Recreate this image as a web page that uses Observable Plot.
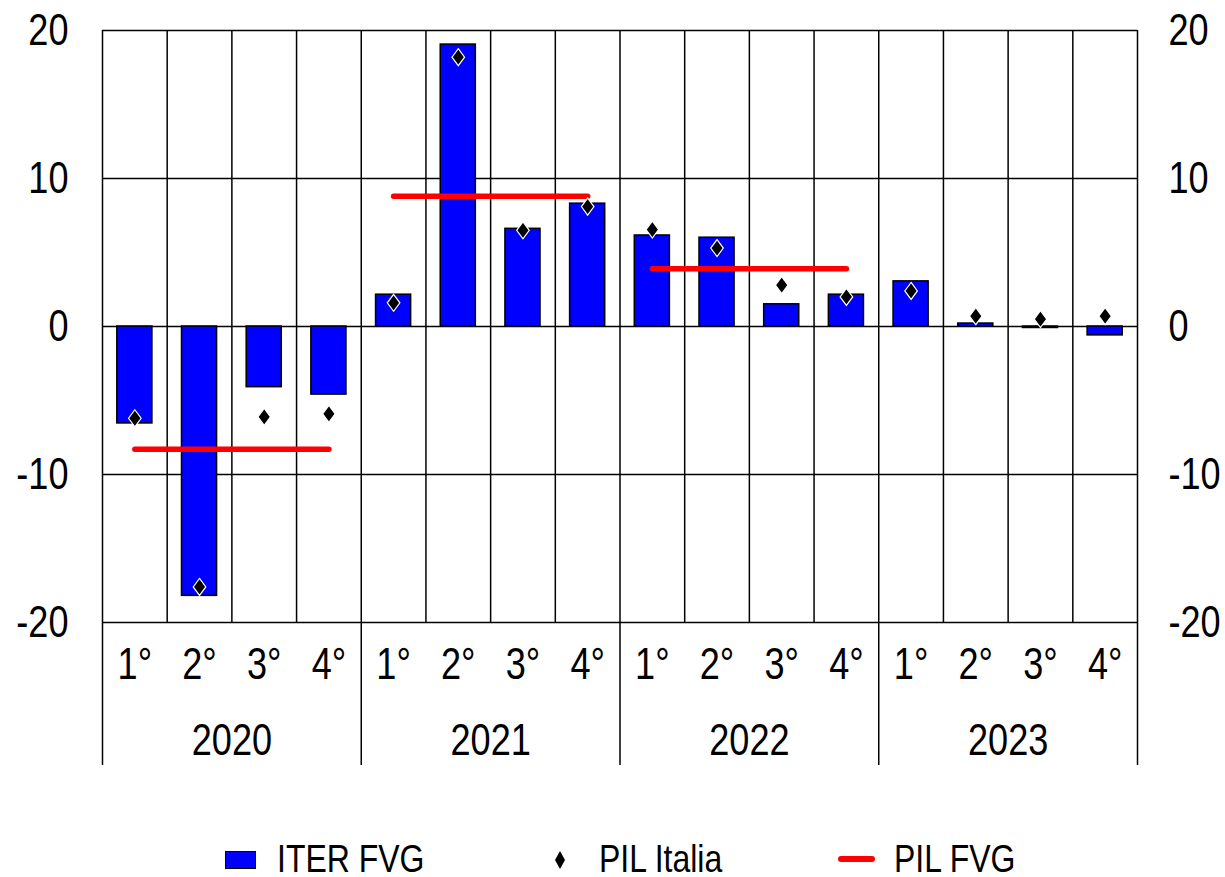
<!DOCTYPE html>
<html>
<head>
<meta charset="utf-8">
<script src="https://cdn.jsdelivr.net/npm/d3@7"></script>
<script src="https://cdn.jsdelivr.net/npm/@observablehq/plot@0.6"></script>
<style>
  html, body { margin: 0; padding: 0; background: #fff; }
  #wrap { width: 1225px; height: 877px; overflow: hidden; font-family: "Liberation Sans", Arial, sans-serif; }
  #wrap svg { display: block; }
</style>
</head>
<body>
<div id="wrap">
  <div id="chart"></div>
  <svg id="legend" width="1225" height="97" font-family="Liberation Sans, Arial, sans-serif" font-size="39">
    <rect x="225.5" y="71.5" width="30" height="17" fill="#0000ff" stroke="#000" stroke-width="1"/>
    <text class="lgt" x="277" y="92">ITER FVG</text>
    <path d="M560,71 L565,80 L560,89 L555,80 Z" fill="#000"/>
    <text class="lgt" x="599" y="92">PIL Italia</text>
    <line x1="841" y1="79" x2="872" y2="79" stroke="#ff0000" stroke-width="6" stroke-linecap="round"/>
    <text class="lgt" x="894" y="92">PIL FVG</text>
  </svg>
</div>
<script>
const years = ["2020", "2021", "2022", "2023"];
const quarters = ["1°", "2°", "3°", "4°"];
const iterFVG = [-6.55, -18.2, -4.1, -4.6, 2.15, 19.05, 6.6, 8.3, 6.15, 6.0, 1.5, 2.15, 3.05, 0.2, -0.1, -0.6];
const pilItalia = [-6.2, -17.6, -6.1, -5.9, 1.6, 18.2, 6.5, 8.1, 6.55, 5.3, 2.8, 2.0, 2.4, 0.7, 0.5, 0.7];
const pilFVG = [-8.3, 8.8, 3.9, null];
const yTicks = [-20, -10, 0, 10, 20];

const rows = iterFVG.map((v, i) => ({ i, iter: v, pil: pilItalia[i] }));
const annual = pilFVG.map((v, k) => ({ k, v })).filter(d => d.v != null);

const diamond = {
  draw(context, size) {
    const r = Math.sqrt(size / Math.PI);
    const w = r * 0.74;
    context.moveTo(0, -r);
    context.lineTo(w, 0);
    context.lineTo(0, r);
    context.lineTo(-w, 0);
    context.closePath();
  }
};

const font = '"Liberation Sans", Arial, sans-serif';
const yFmt = d => String(d);

const chart = Plot.plot({
  width: 1225,
  height: 780,
  marginTop: 30,
  marginLeft: 102,
  marginRight: 88,
  marginBottom: 158,
  style: { fontFamily: font, fontSize: "44px", color: "#000", background: "transparent", overflow: "visible" },
  x: { domain: [0, 16], axis: null },
  y: { domain: [-20, 20], axis: null },
  marks: [
    Plot.gridY(yTicks, { stroke: "#000", strokeOpacity: 1, strokeWidth: 1.5 }),
    Plot.ruleX(d3.range(17), { y1: -20, y2: 20, stroke: "#000", strokeWidth: 1.5 }),
    Plot.rectY(rows, { x1: "i", x2: d => d.i + 1, y1: 0, y2: "iter", fill: "#0000ff", stroke: "#000", strokeWidth: 1.5, insetLeft: 14.8, insetRight: 14.8 }),
    Plot.link(annual, { x1: d => d.k * 4 + 0.5, x2: d => d.k * 4 + 3.5, y1: "v", y2: "v", stroke: "#ff0000", strokeWidth: 5.5, strokeLinecap: "round" }),
    Plot.dot(rows, { x: d => d.i + 0.5, y: "pil", symbol: diamond, r: 8.5, fill: "#000", stroke: "#fff", strokeWidth: 1.2 }),
    Plot.axisY(yTicks, { anchor: "left", tickSize: 0, tickPadding: 34, fontSize: 44, label: null, tickFormat: yFmt }),
    Plot.axisY(yTicks, { anchor: "right", tickSize: 0, tickPadding: 31, fontSize: 44, label: null, tickFormat: yFmt }),
    Plot.axisX(d3.range(16).map(i => i + 0.5), { anchor: "bottom", tickSize: 0, tickPadding: 25, fontSize: 44, label: null, tickFormat: d => quarters[Math.floor(d) % 4] }),
    Plot.axisX([2, 6, 10, 14], { anchor: "bottom", tickSize: 0, tickPadding: 101, fontSize: 44, label: null, tickFormat: d => years[(d - 2) / 4] }),
    Plot.axisX([0, 4, 8, 12, 16], { anchor: "bottom", tickSize: 143, tickFormat: () => "", stroke: "#000", strokeWidth: 1.5, label: null })
  ]
});

document.getElementById("chart").appendChild(chart);

// emulate the narrow typeface of the original by compressing each label's glyphs
document.querySelectorAll("#wrap text").forEach(t => {
  const len = t.getComputedTextLength();
  if (len > 0) {
    t.setAttribute("textLength", (len * 0.82).toFixed(2));
    t.setAttribute("lengthAdjust", "spacingAndGlyphs");
  }
});
</script>
</body>
</html>
